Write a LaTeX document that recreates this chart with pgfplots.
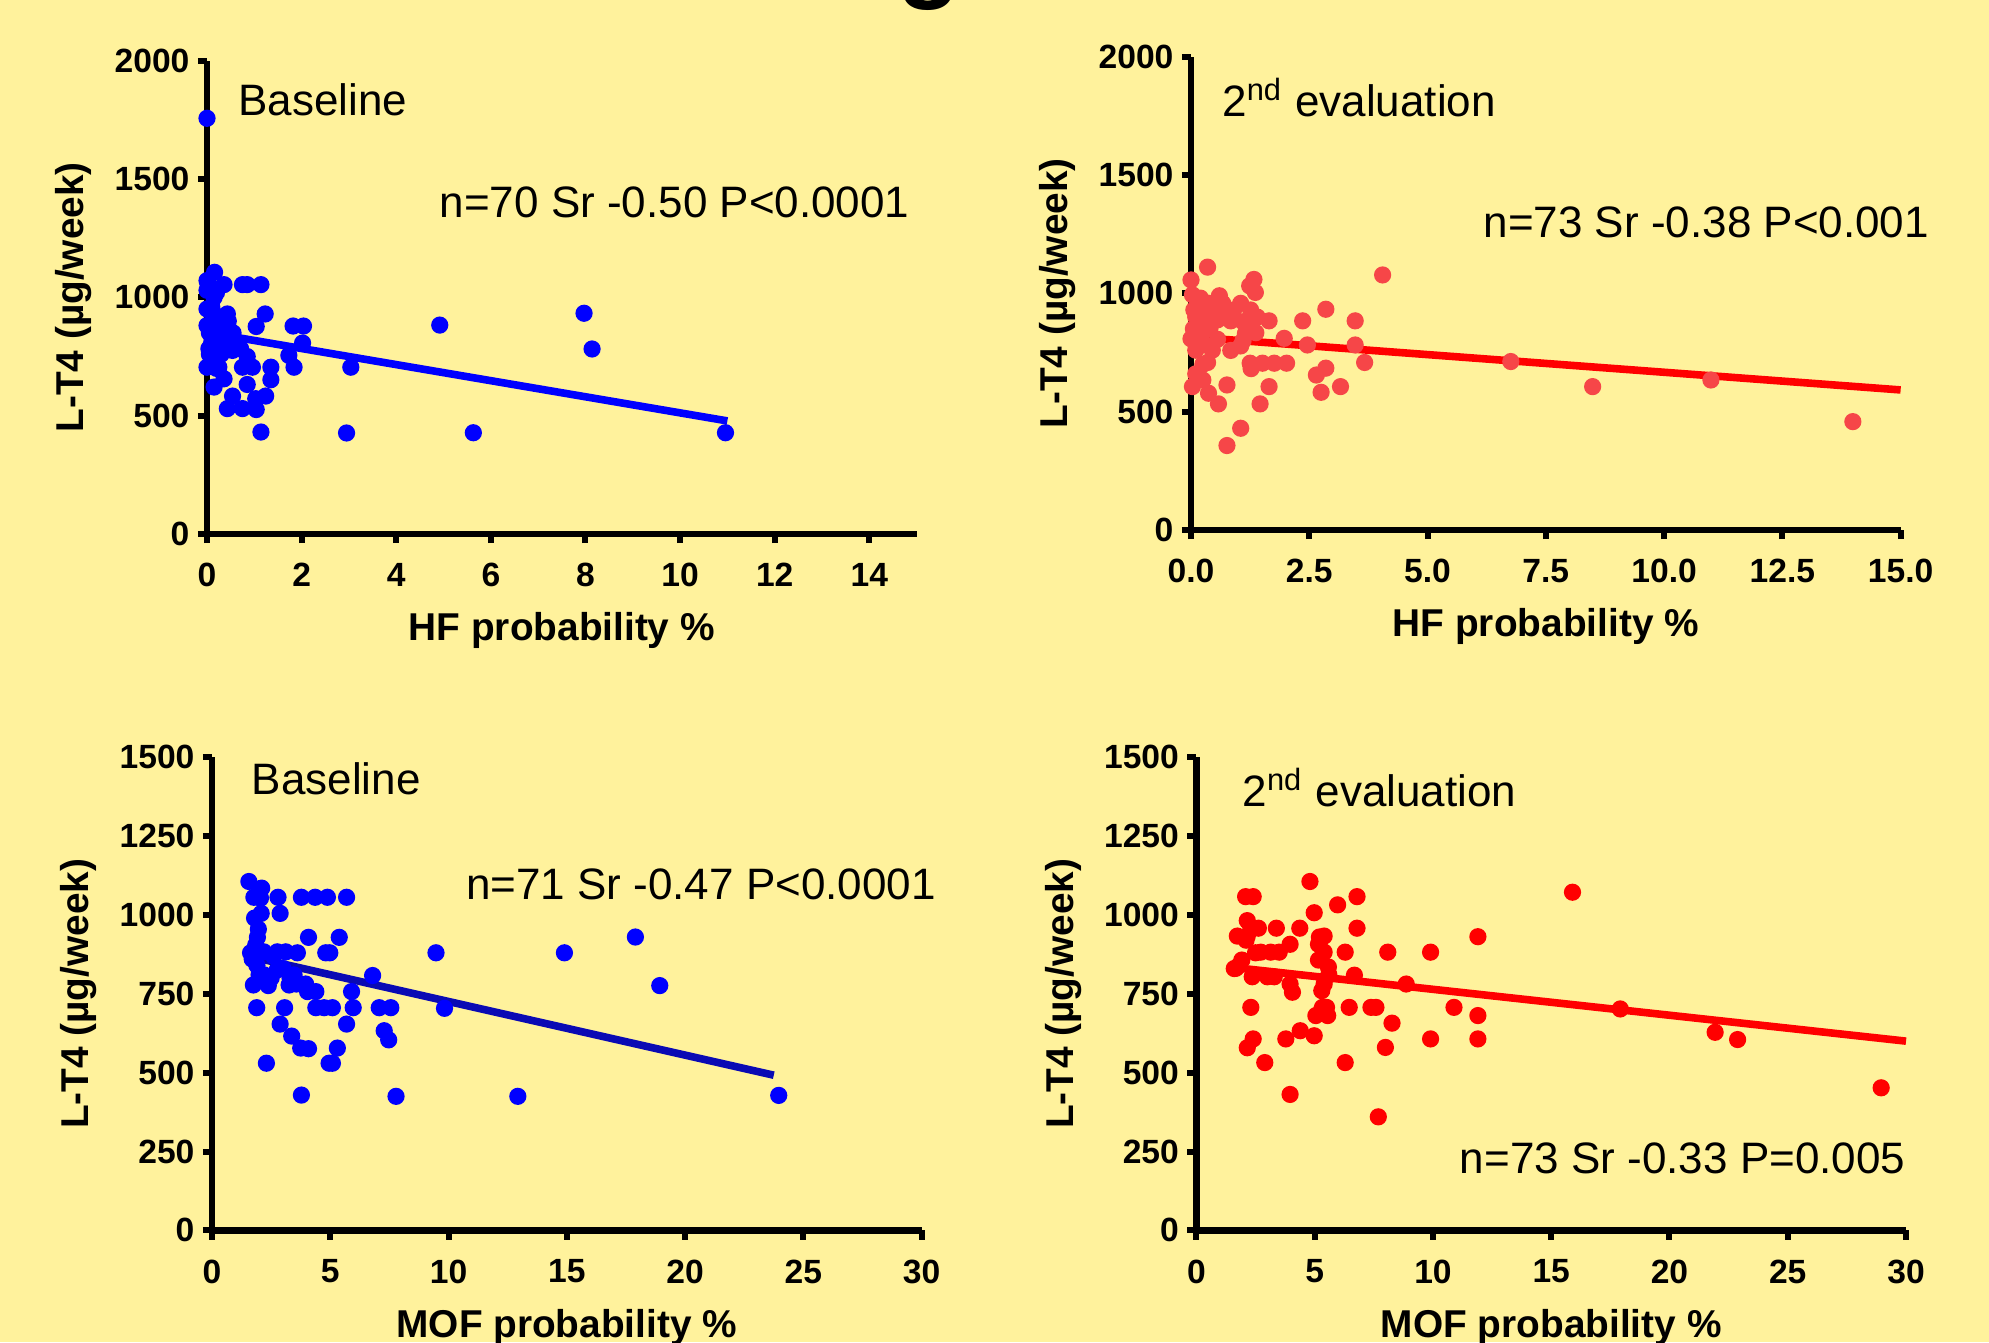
\documentclass[border=0pt]{standalone}
\usepackage{fontspec}
\setmainfont{Liberation Sans}
\usepackage{pgfplots}
\pgfplotsset{compat=1.18}

\definecolor{bgyellow}{RGB}{255,242,156}
\definecolor{ptblue}{RGB}{0,0,255}
\definecolor{ptred}{RGB}{246,70,72}
\definecolor{fitnavy}{RGB}{10,10,180}

\pgfplotsset{
  panel/.style={
    scale only axis, width=177.4pt, height=118.3pt,
    axis x line*=bottom, axis y line*=left,
    axis line style={line width=1.6pt},
    every tick/.style={black, line width=1.5pt},
    major tick length=2.3pt, tick align=outside,
    xmin=0, ymin=0, clip=false, axis on top,
    /pgf/number format/assume math mode=true,
    /pgf/number format/1000 sep={},
    ticklabel style={font=\bfseries\fontsize{8.4}{9.5}\selectfont, inner sep=0pt},
    yticklabel style={anchor=east, xshift=-1.9pt},
    xticklabel style={anchor=north, yshift=-4.8pt},
    label style={font=\bfseries\fontsize{9.7}{11}\selectfont},
    ylabel={L-T4 (µg/week)},
    ylabel style={at={([xshift=-33.3pt]rel axis cs:0,0.5)}, anchor=center},
    xlabel style={at={([yshift=-26.7pt]rel axis cs:0.5,0)}, anchor=base},
  },
  dots/.style={only marks, mark=*, mark size=1.95pt, color=#1},
  fit/.style={no marks, line width=1.9pt, color=#1},
}
\tikzset{note/.style={inner sep=0pt, font=\fontsize{11}{13}\selectfont}}

\begin{document}
\begin{tikzpicture}
\useasboundingbox (0,0) rectangle (497.25pt,335.5pt);
\fill[bgyellow] (0,0) rectangle (497.25pt,335.5pt);
% bit of the cut-off title
\node[anchor=base, inner sep=0pt, font=\bfseries\fontsize{26}{26}\selectfont] at (232.3pt,338.4pt) {g};

% top left: HF, baseline
\begin{axis}[panel, at={(51.75pt,202pt)}, anchor=south west,
  xmax=15, ymax=2000, xtick={0,2,...,14}, ytick={0,500,...,2000},
  xlabel={HF probability \%}]
\addplot[dots=ptblue] coordinates {
(0,1757) (0.16,1106) (0,1071) (0.02,1058) (0.36,1054) (0.75,1054) (0.85,1054)
(1.14,1054) (0.15,1000) (0,951) (0.15,930) (0.43,930) (1.23,930) (0,881)
(0.15,881) (0.43,881) (1.04,877) (1.82,879) (2.04,879) (0.22,846) (0.5,832)
(0.04,783) (0.29,790) (0.54,776) (0.71,783) (2.02,807) (1.73,755) (0.85,750)
(0,705) (0.25,705) (0.75,705) (0.96,705) (1.35,705) (1.84,705) (3.04,705)
(0.36,656) (1.35,652) (0.15,621) (0.85,632) (0.54,583) (1.24,583) (1.03,572)
(0.43,530) (0.75,530) (1.04,526) (1.14,431) (2.95,427) (4.92,883) (7.97,933)
(8.14,782) (5.63,428) (10.96,428) (0.05,850) (0.1,810) (0.3,860) (0.2,900)
(0.1,960) (0.35,810) (0.05,760) (0.6,800) (0.3,760) (0,1030) (0.2,1020)
(0.45,900) (0.25,830) (0.15,790) (0.4,850) (0.55,850) (0.1,740) (0.2,700)
};
\addplot[fit=ptblue] coordinates {(0,852) (11,478)};
\node[note, anchor=base west] at (rel axis cs:0.043,0.885) {Baseline};
\node[note, anchor=base east] at (rel axis cs:0.991,0.668) {n=70 Sr -0.50 P<0.0001};
\end{axis}

% top right: HF, 2nd evaluation
\begin{axis}[panel, at={(297.75pt,203pt)}, anchor=south west,
  xmax=15, ymax=2000, xtick={0,2.5,...,15}, ytick={0,500,...,2000},
  xticklabel style={/pgf/number format/.cd, fixed, fixed zerofill, precision=1},
  xlabel={HF probability \%}]
\addplot[dots=ptred] coordinates {
(0.35,1111) (0,1057) (1.33,1059) (1.24,1032) (1.36,1004) (4.05,1078) (0.03,994)
(0.17,958) (0.38,958) (0.67,958) (1.05,958) (0.06,930) (1.26,930) (0.31,888)
(0.56,888) (0.84,884) (1.65,884) (2.36,884) (3.47,884) (2.85,933) (1.23,860)
(1.37,834) (0,808) (0.25,789) (0.56,806) (1.05,778) (0.84,759) (1.97,810)
(2.46,782) (3.47,782) (6.76,712) (0.35,708) (1.25,705) (1.51,705) (1.76,705)
(2.02,705) (1.27,682) (3.67,708) (2.65,655) (2.85,684) (0.03,606) (0.25,634)
(0.76,613) (1.65,606) (3.16,606) (0.37,578) (2.75,582) (0.58,533) (1.46,533)
(1.05,430) (0.76,357) (8.49,606) (10.99,634) (13.99,458) (0.1,900) (0.2,870)
(0.05,850) (0.15,820) (0.3,930) (0.5,930) (0.4,850) (0.7,900) (0.9,930)
(1.1,880) (0.2,980) (0.45,760) (0.1,760) (1.4,900) (1.1,800) (0.25,700)
(0.1,660) (1.15,830) (0.6,990)
};
\addplot[fit=red] coordinates {(0,816) (15,592)};
\node[note, anchor=base west] at (rel axis cs:0.043,0.874) {2\textsuperscript{nd} evaluation};
\node[note, anchor=base east] at (rel axis cs:1.041,0.619) {n=73 Sr -0.38 P<0.001};
\end{axis}

% bottom left: MOF, baseline
\begin{axis}[panel, at={(53pt,27.9pt)}, anchor=south west,
  xmax=30, ymax=1500, xtick={0,5,...,30}, ytick={0,250,...,1500},
  xlabel={MOF probability \%}]
\addplot[dots=ptblue] coordinates {
(1.56,1106) (2.1,1085) (1.77,1056) (2.05,1053) (2.79,1056) (3.78,1056) (4.36,1056)
(4.88,1056) (5.69,1056) (2.08,1005) (2.88,1005) (1.96,955) (1.92,929) (4.08,929)
(5.38,929) (1.85,905) (1.63,880) (2.19,883) (2.76,883) (3.12,883) (3.61,880)
(4.81,880) (4.98,880) (9.47,880) (1.99,810) (2.76,826) (3.47,810) (6.79,808)
(1.75,778) (2.38,776) (3.26,778) (3.57,781) (3.96,781) (4.04,757) (4.39,757)
(5.9,757) (1.89,706) (3.07,706) (4.39,706) (4.74,706) (5.09,706) (5.97,706)
(7.07,706) (7.56,706) (9.83,704) (2.88,654) (5.69,654) (7.28,633) (7.47,604)
(3.37,616) (3.75,578) (4.08,576) (5.3,578) (2.3,530) (4.95,530) (5.09,530)
(3.78,429) (7.78,425) (12.93,425) (14.9,880) (17.9,930) (18.93,776) (23.96,428)
(1.7,860) (1.9,840) (2.5,800) (3.0,830) (2.2,810) (1.8,990) (2.6,870) (3.3,800)
};
\addplot[fit=fitnavy] coordinates {(1.5,870) (23.75,492)};
\node[note, anchor=base west] at (rel axis cs:0.055,0.922) {Baseline};
\node[note, anchor=base east] at (rel axis cs:1.021,0.700) {n=71 Sr -0.47 P<0.0001};
\end{axis}

% bottom right: MOF, 2nd evaluation
\begin{axis}[panel, at={(299.1pt,27.9pt)}, anchor=south west,
  xmax=30, ymax=1500, xtick={0,5,...,30}, ytick={0,250,...,1500},
  xlabel={MOF probability \%}]
\addplot[dots=red] coordinates {
(4.8,1106) (2.08,1058) (2.4,1058) (6.79,1058) (5.97,1032) (4.98,1007) (2.15,982)
(2.62,958) (3.38,958) (4.37,958) (6.79,958) (1.73,933) (2.15,933) (5.4,933)
(11.9,931) (3.96,907) (5.16,907) (2.72,882) (3.14,882) (3.5,882) (5.4,882)
(6.29,882) (8.09,882) (9.9,882) (1.92,857) (5.16,857) (1.67,831) (5.58,835)
(2.36,804) (3.0,804) (3.29,804) (6.68,809) (3.96,781) (5.4,781) (8.87,781)
(4.06,755) (2.3,707) (5.33,707) (5.5,707) (6.46,707) (7.38,707) (7.59,707)
(10.89,707) (5.05,681) (5.55,681) (11.9,681) (8.27,657) (4.39,633) (2.4,607)
(2.15,579) (3.78,607) (4.98,617) (7.99,580) (9.9,607) (11.9,607) (2.89,532)
(6.29,532) (3.96,431) (7.69,360) (15.9,1072) (17.92,702) (21.93,628) (22.88,605)
(28.95,452) (1.8,840) (2.1,920) (5.2,930) (5.3,760) (5.3,700) (2.5,880)
(2.3,960) (5.6,810) (1.6,830)
};
\addplot[fit=red] coordinates {(1.5,834) (30,600)};
\node[note, anchor=base west] at (rel axis cs:0.064,0.895) {2\textsuperscript{nd} evaluation};
\node[note, anchor=base east] at (rel axis cs:1.0,0.121) {n=73 Sr -0.33 P=0.005};
\end{axis}
\end{tikzpicture}
\end{document}
